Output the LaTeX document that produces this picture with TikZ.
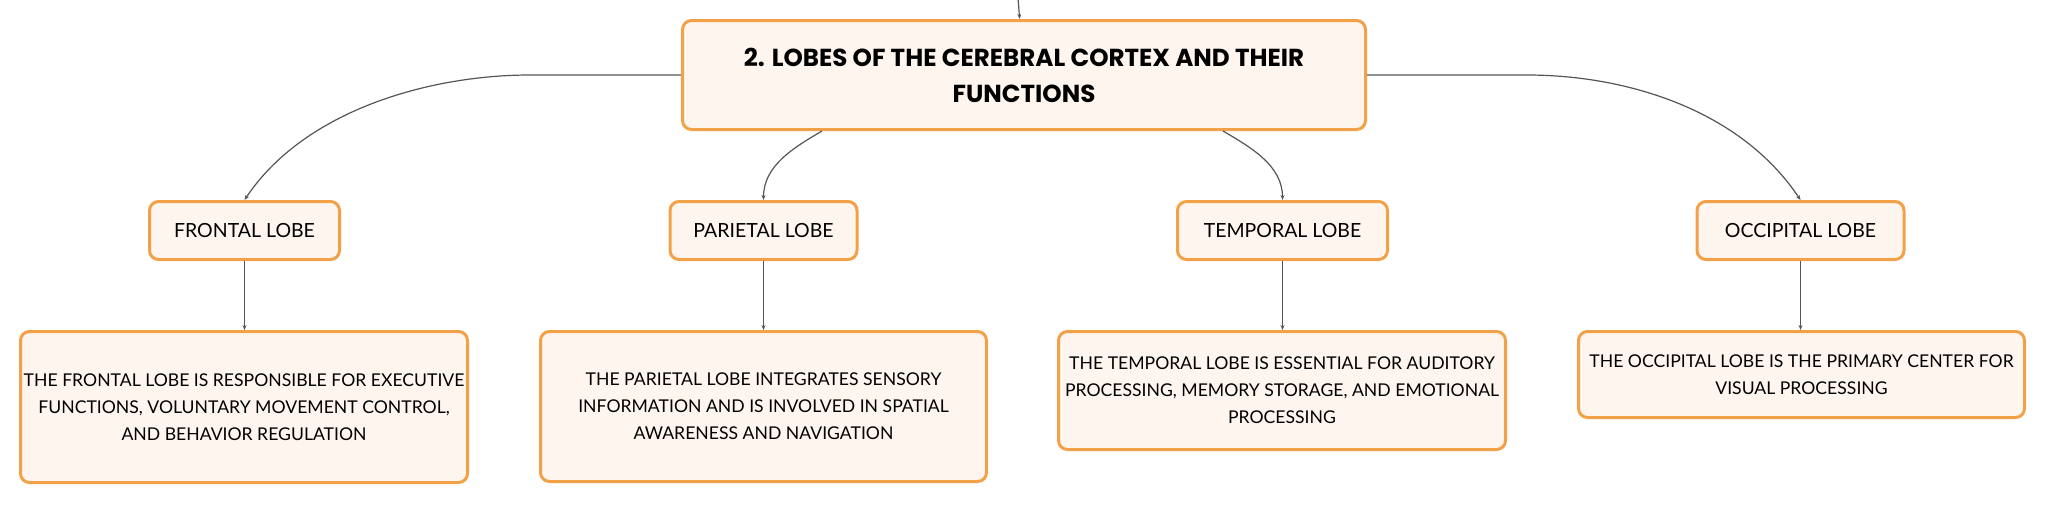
\documentclass[tikz,border=0pt]{standalone}
\usepackage{fontspec}
\setmainfont{Lato}
\newfontfamily\titlefont{Poppins}
\usetikzlibrary{arrows.meta,calc}
\definecolor{boxborder}{HTML}{F3A148}
\definecolor{boxfill}{HTML}{FEF6EE}
\definecolor{linkgray}{HTML}{555555}
\tikzset{
  mapbox/.style={draw=boxborder,fill=boxfill,line width=3pt,rounded corners=9pt,
    align=center,inner sep=0pt,text=black},
  lobebox/.style={mapbox,minimum height=58pt,font=\fontsize{19.5}{24}\selectfont},
  descbox/.style={mapbox,font=\fontsize{17.6}{27}\selectfont},
  titlebox/.style={mapbox,minimum width=683pt,minimum height=109pt,
    font=\titlefont\bfseries\fontsize{24.6}{36}\selectfont},
  conn/.style={draw=linkgray,line width=1.2pt,-{Stealth[length=5pt,width=4pt]}}
}
\begin{document}
\begin{tikzpicture}[x=1pt,y=-1pt]
\useasboundingbox (0,0) rectangle (2046,504);
\node[titlebox] (main) at (1024,75) {2. LOBES OF THE CEREBRAL CORTEX AND THEIR\\FUNCTIONS};
\node[lobebox,minimum width=190pt] (frontal) at (244.5,230.5) {FRONTAL LOBE};
\node[lobebox,minimum width=187pt] (parietal) at (763.5,230.5) {PARIETAL LOBE};
\node[lobebox,minimum width=210pt] (temporal) at (1282.5,230.5) {TEMPORAL LOBE};
\node[lobebox,minimum width=207pt] (occipital) at (1800.5,230.5) {OCCIPITAL LOBE};
\node[descbox,minimum width=447pt,minimum height=151pt] (fdesc) at (244,407)
  {THE FRONTAL LOBE IS RESPONSIBLE FOR EXECUTIVE\\FUNCTIONS, VOLUNTARY MOVEMENT CONTROL,\\AND BEHAVIOR REGULATION};
\node[descbox,minimum width=446pt,minimum height=150pt] (pdesc) at (763.5,406.5)
  {THE PARIETAL LOBE INTEGRATES SENSORY\\INFORMATION AND IS INVOLVED IN SPATIAL\\AWARENESS AND NAVIGATION};
\node[descbox,minimum width=447pt,minimum height=118pt] (tdesc) at (1282,390.5)
  {THE TEMPORAL LOBE IS ESSENTIAL FOR AUDITORY\\PROCESSING, MEMORY STORAGE, AND EMOTIONAL\\PROCESSING};
\node[descbox,minimum width=446pt,minimum height=86pt] (odesc) at (1801.5,374.5)
  {THE OCCIPITAL LOBE IS THE PRIMARY CENTER FOR\\VISUAL PROCESSING};
\coordinate (topin) at (1018,-2);
\draw[conn] (topin) -- (main);
\draw[conn] (main.west) -- ++(-151,0) .. controls +(-100,0) and +(60,-90) .. (frontal.north);
\draw[conn] ($(main.south)+(-202,0)$) .. controls +(-27,16) and +(0,-35) .. (parietal.north);
\draw[conn] ($(main.south)+(199,0)$) .. controls +(27,16) and +(0,-35) .. (temporal.north);
\draw[conn] (main.east) -- ++(160,0) .. controls +(100,0) and +(-60,-90) .. (occipital.north);
\draw[conn] (frontal.south) -- (frontal.south |- fdesc.north);
\draw[conn] (parietal.south) -- (parietal.south |- pdesc.north);
\draw[conn] (temporal.south) -- (temporal.south |- tdesc.north);
\draw[conn] (occipital.south) -- (occipital.south |- odesc.north);
\end{tikzpicture}
\end{document}
